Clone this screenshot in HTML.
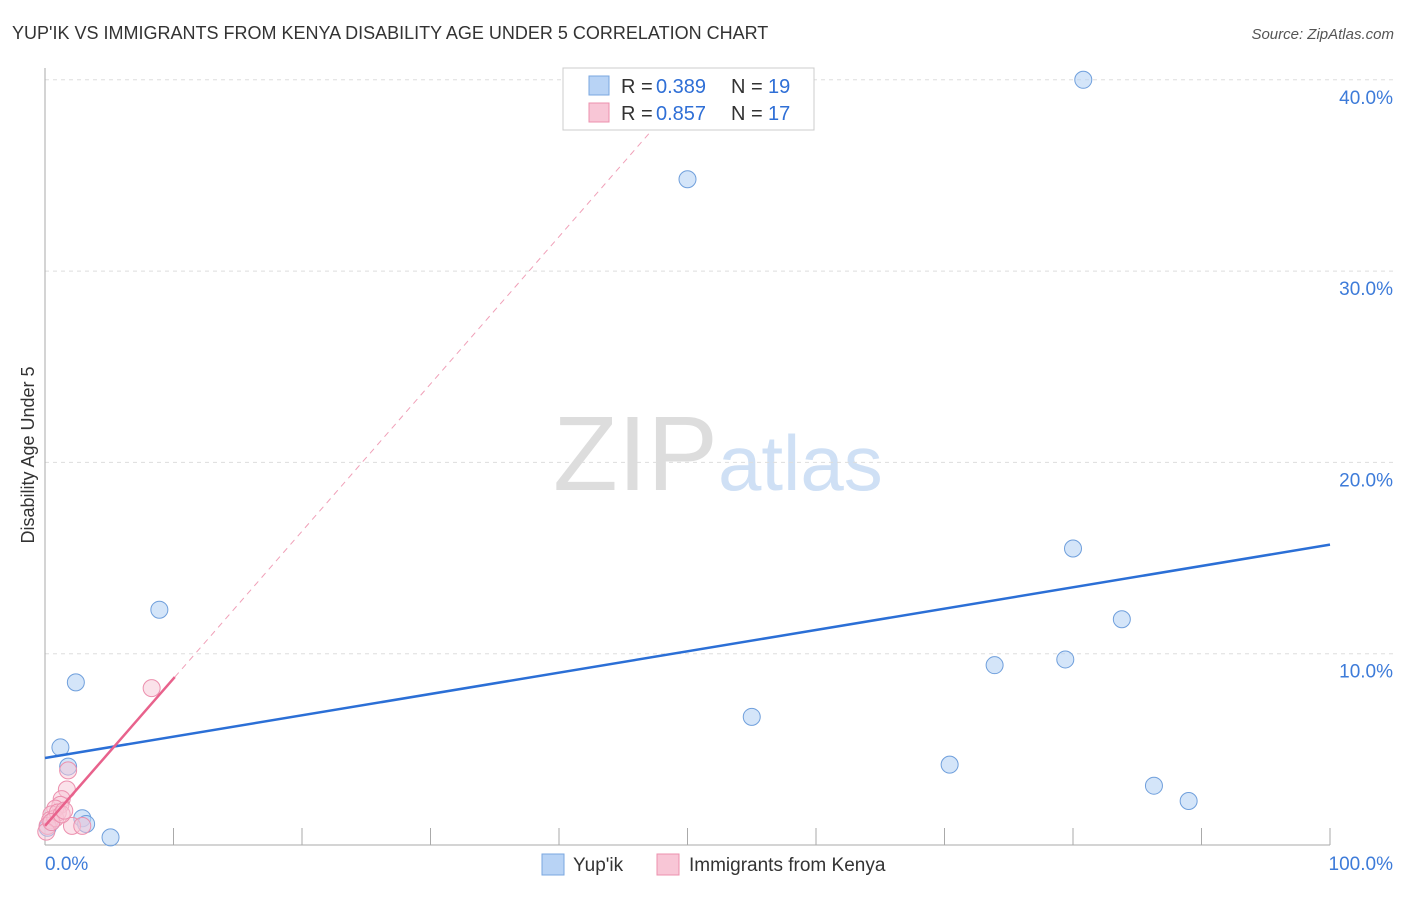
<!DOCTYPE html>
<html><head><meta charset="utf-8"><style>
body{margin:0;background:#fff;font-family:"Liberation Sans",sans-serif;}
svg text{font-family:"Liberation Sans",sans-serif;}
</style></head><body>
<svg id="c" width="1406" height="892" xmlns="http://www.w3.org/2000/svg">
<text x="12" y="39" font-size="18" fill="#333">YUP'IK VS IMMIGRANTS FROM KENYA DISABILITY AGE UNDER 5 CORRELATION CHART</text>
<text x="1394" y="39" font-size="15" fill="#555" font-style="italic" text-anchor="end">Source: ZipAtlas.com</text>
<text x="34" y="455" font-size="18" fill="#333" text-anchor="middle" transform="rotate(-90 34 455)">Disability Age Under 5</text>
<text x="553" y="490" font-size="106" fill="#ddd" font-family="Liberation Serif">ZIP</text>
<text x="718" y="490" font-size="78" fill="#cfe0f5">atlas</text>
<g id="grid"></g><g id="pts"></g><g id="lines"></g>
<g>
<rect x="563" y="68" width="251" height="62" fill="#fff" stroke="#ccc"/>
<rect x="589" y="76" width="20" height="19" fill="#b8d3f5" stroke="#7aa7e0"/>
<text x="621" y="93" font-size="20" fill="#333">R = </text><text x="656" y="93" font-size="20" fill="#2f6fd6">0.389</text>
<text x="731" y="93" font-size="20" fill="#333">N = </text><text x="768" y="93" font-size="20" fill="#2f6fd6">19</text>
<rect x="589" y="103" width="20" height="19" fill="#f8c6d6" stroke="#ec90ae"/>
<text x="621" y="120" font-size="20" fill="#333">R = </text><text x="656" y="120" font-size="20" fill="#2f6fd6">0.857</text>
<text x="731" y="120" font-size="20" fill="#333">N = </text><text x="768" y="120" font-size="20" fill="#2f6fd6">17</text>
</g>
<g>
<rect x="542" y="854" width="22" height="21" fill="#b8d3f5" stroke="#7aa7e0"/>
<text x="573" y="871" font-size="19" fill="#333">Yup'ik</text>
<rect x="657" y="854" width="22" height="21" fill="#f8c6d6" stroke="#ec90ae"/>
<text x="689" y="871" font-size="19" fill="#333">Immigrants from Kenya</text>
</g>
<text x="45" y="870" font-size="19" fill="#3d7bd9">0.0%</text>
<text x="1393" y="870" font-size="19" fill="#3d7bd9" text-anchor="end">100.0%</text>
</svg>
<script>
const yTicks=[10,20,30,40];
const blueX=[80.8,50.0,8.9,2.4,1.2,1.8,2.9,3.2,5.1,55.0,73.9,79.4,80.0,83.8,70.4,86.3,89.0,0.2,0.5];
const blueY=[40.0,34.8,12.3,8.5,5.1,4.1,1.4,1.1,0.4,6.7,9.4,9.7,15.5,11.8,4.2,3.1,2.3,0.9,1.2];
const pinkX=[8.3,1.8,1.7,1.3,1.2,0.8,0.5,0.4,0.2,0.8,1.0,2.1,2.9,0.1,0.5,1.3,1.5];
const pinkY=[8.2,3.9,2.9,2.4,2.1,1.9,1.6,1.3,1.0,1.4,1.7,1.0,1.0,0.7,1.2,1.6,1.8];
const blueLine=[4.55,15.7];
const pinkLine=[1.0,0.77];
const X=v=>45+v*12.85, Y=v=>845-v*19.13;
const NS="http://www.w3.org/2000/svg";
function mk(t,a,p){const e=document.createElementNS(NS,t);for(const k in a)e.setAttribute(k,a[k]);document.getElementById(p).appendChild(e);return e;}
yTicks.forEach(t=>{
 const l=mk('line',{x1:45,x2:1393,y1:Y(t),y2:Y(t),stroke:'#ddd','stroke-dasharray':'4,4'},'grid');
 
 
 const tx=mk('text',{x:1393,y:Y(t)+24,'font-size':19,fill:'#3d7bd9','text-anchor':'end'},'grid');
 tx.textContent=t.toFixed(1)+'%';
 
 
});
const ax=mk('line',{x1:45,x2:45,y1:68,y2:845,stroke:'#aaa'},'grid');


const bx=mk('line',{x1:45,x2:1330,y1:845,y2:845,stroke:'#aaa'},'grid');


for(let i=1;i<=10;i++){const t=mk('line',{x1:X(i*10),x2:X(i*10),y1:828,y2:845,stroke:'#aaa'},'grid');
 
 }
blueX.forEach((v,i)=>{const c=mk('circle',{cx:X(v),cy:Y(blueY[i]),r:8.5,fill:'#b8d3f5','fill-opacity':0.6,stroke:'#6f9fdc'},'pts');
 
 });
pinkX.forEach((v,i)=>{const c=mk('circle',{cx:X(v),cy:Y(pinkY[i]),r:8.5,fill:'#f8c6d6','fill-opacity':0.5,stroke:'#ec90ae'},'pts');
 
 });
const bl=mk('line',{x1:X(0),y1:Y(blueLine[0]),x2:X(100),y2:Y(blueLine[1]),stroke:'#2b6fd6','stroke-width':2.5},'lines');


const pe=(40-pinkLine[0])/pinkLine[1]*0.94;
const pd=mk('line',{x1:X(10.1),y1:Y(pinkLine[0]+pinkLine[1]*10.1),x2:X(pe),y2:Y(pinkLine[0]+pinkLine[1]*pe),stroke:'#f0a0b8','stroke-width':1,'stroke-dasharray':'6,5'},'lines');


const pl=mk('line',{x1:X(0),y1:Y(pinkLine[0]),x2:X(10.1),y2:Y(pinkLine[0]+pinkLine[1]*10.1),stroke:'#e8628c','stroke-width':2.5},'lines');


</script>
</body></html>
